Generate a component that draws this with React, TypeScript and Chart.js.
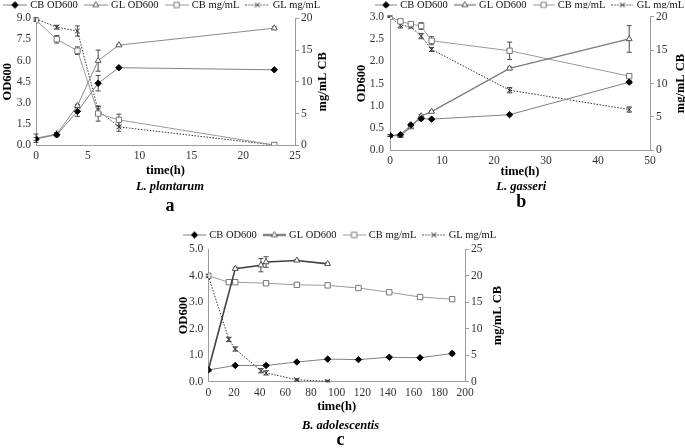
import React, { useEffect, useRef } from "react";
import { Chart, registerables } from "chart.js";

Chart.register(...registerables);

const FONT = '"Liberation Serif", "DejaVu Serif", serif';

const SERIES_LABELS = ["CB OD600", "GL OD600", "CB mg/mL", "GL mg/mL"];
const RIGHT_AXIS_TITLE = "mg/mL CB";

// ---------- Panel a : L. plantarum ----------
const A_TIME = [0, 2, 4, 6, 8, 23];
const A_CB_OD = [0.45, 0.75, 2.4, 4.4, 5.5, 5.35];
const A_CB_OD_ERR = [0.1, 0.15, 0.35, 0.55, 0, 0];
const A_GL_OD = [0.5, 0.8, 2.8, 6.0, 7.1, 8.3];
const A_GL_OD_ERR = [0.3, 0.1, 0.1, 0.75, 0.05, 0.1];
const A_CB_MG = [19.7, 16.7, 14.9, 5.0, 4.0, 0.05];
const A_CB_MG_ERR = [0.2, 0.6, 0.6, 1.2, 0.9, 0];
const A_GL_MG = [19.9, 18.6, 18.0, 5.5, 2.9, 0.05];
const A_GL_MG_ERR = [0.2, 0.3, 0.8, 0.6, 0.7, 0];
const A_X_TICKS = [0, 5, 10, 15, 20, 25];
const A_OD_TICKS = [0, 1.5, 3, 4.5, 6, 7.5, 9];
const A_MG_TICKS = [0, 5, 10, 15, 20];

// ---------- Panel b : L. gasseri ----------
const B_TIME = [0, 2, 4, 6, 8, 23, 46];
const B_CB_OD = [0.33, 0.35, 0.57, 0.71, 0.7, 0.8, 1.53];
const B_CB_OD_ERR = [0.02, 0.02, 0.03, 0.03, 0.02, 0.02, 0.03];
const B_GL_OD = [0.33, 0.33, 0.52, 0.77, 0.87, 1.84, 2.5];
const B_GL_OD_ERR = [0.02, 0.02, 0.03, 0.03, 0.02, 0.03, 0.3];
const B_CB_MG = [20.0, 19.3, 18.9, 18.6, 16.4, 14.9, 11.1];
const B_CB_MG_ERR = [0.1, 0.2, 0.2, 0.5, 0.6, 1.3, 0.1];
const B_GL_MG = [20.0, 18.7, 18.5, 17.1, 15.1, 9.0, 6.1];
const B_GL_MG_ERR = [0.1, 0.4, 0.2, 0.4, 0.3, 0.4, 0.4];
const B_X_TICKS = [0, 10, 20, 30, 40, 50];
const B_OD_TICKS = [0, 0.5, 1, 1.5, 2, 2.5, 3];
const B_MG_TICKS = [0, 5, 10, 15, 20];

// ---------- Panel c : B. adolescentis ----------
const C_CB_OD_TIME = [0, 21, 45, 69, 93, 117, 141, 165, 190];
const C_CB_OD = [0.45, 0.62, 0.62, 0.75, 0.86, 0.84, 0.93, 0.91, 1.07];
const C_CB_OD_ERR = [0, 0.02, 0.02, 0.02, 0.02, 0.02, 0.03, 0.02, 0.06];
const C_GL_OD_TIME = [0, 21, 41, 45, 69, 93];
const C_GL_OD = [0.45, 4.27, 4.4, 4.52, 4.58, 4.45];
const C_GL_OD_ERR = [0, 0.05, 0.25, 0.2, 0.04, 0.03];
const C_CB_MG_TIME = [0, 16, 21, 45, 69, 93, 117, 141, 165, 190];
const C_CB_MG = [20.0, 18.8, 18.8, 18.6, 18.3, 18.2, 17.7, 16.9, 16.0, 15.6];
const C_CB_MG_ERR = [0.2, 0.3, 0.3, 0.3, 0.3, 0.4, 0.3, 0.3, 0.3, 0.3];
const C_GL_MG_TIME = [0, 16, 21, 41, 45, 69, 93];
const C_GL_MG = [20.0, 8.0, 6.2, 2.1, 1.7, 0.4, 0.1];
const C_GL_MG_ERR = [0.3, 0.4, 0.4, 0.4, 0.4, 0.2, 0.2];
const C_X_TICKS = [0, 20, 40, 60, 80, 100, 120, 140, 160, 180, 200];
const C_OD_TICKS = [0, 1, 2, 3, 4, 5];
const C_MG_TICKS = [0, 5, 10, 15, 20, 25];

type Series = { t: number[]; v: number[]; e: number[] };

type Style = {
  color: string;
  width: number;
  dash: number[];
  point: string;
  r: number;
  fill: string;
  pb: string;
};

const baseStyles = (glOdColor: string, glOdWidth: number): Style[] => [
  { color: "#808080", width: 1, dash: [], point: "rectRot", r: 3.2, fill: "#000", pb: "#000" },
  { color: glOdColor, width: glOdWidth, dash: [], point: "triangle", r: 3.4, fill: "#fff", pb: "#555" },
  { color: "#9a9a9a", width: 1, dash: [], point: "rect", r: 3.8, fill: "#fff", pb: "#777" },
  { color: "#333", width: 1, dash: [1.5, 1.5], point: "crossRot", r: 3.4, fill: "#333", pb: "#333" },
];

const PANELS = [
  {
    key: "a",
    species: "L. plantarum",
    series: [
      { t: A_TIME, v: A_CB_OD, e: A_CB_OD_ERR },
      { t: A_TIME, v: A_GL_OD, e: A_GL_OD_ERR },
      { t: A_TIME, v: A_CB_MG, e: A_CB_MG_ERR },
      { t: A_TIME, v: A_GL_MG, e: A_GL_MG_ERR },
    ] as Series[],
    xTicks: A_X_TICKS,
    odTicks: A_OD_TICKS,
    mgTicks: A_MG_TICKS,
    styles: baseStyles("#8a8a8a", 1),
    box: { left: 0, top: 0, w: 340, h: 220 },
    pad: { left: 0, right: 0, top: 0, bottom: 0 },
    yW: 36,
    y2W: 45,
    titleOff: 17.5,
    xH: 32.5,
    legend: { symW: 24, S: 3, G: 6, Y: 5, h: 18.3 },
    sub: { top: 1.9, bottom: 0 },
    ttl: { top: 4, bottom: 6.9 },
    yTickPad: 5,
  },
  {
    key: "b",
    species: "L. gasseri",
    series: [
      { t: B_TIME, v: B_CB_OD, e: B_CB_OD_ERR },
      { t: B_TIME, v: B_GL_OD, e: B_GL_OD_ERR },
      { t: B_TIME, v: B_CB_MG, e: B_CB_MG_ERR },
      { t: B_TIME, v: B_GL_MG, e: B_GL_MG_ERR },
    ] as Series[],
    xTicks: B_X_TICKS,
    odTicks: B_OD_TICKS,
    mgTicks: B_MG_TICKS,
    styles: baseStyles("#7a7a7a", 1.3),
    box: { left: 340, top: 0, w: 345, h: 220 },
    pad: { left: 14.3, right: -3.2, top: 0, bottom: 0 },
    yW: 35.7,
    y2W: 38.2,
    titleOff: 7.5,
    xH: 28.8,
    legend: { symW: 22, S: 35, G: 6, Y: 5, h: 16.7 },
    sub: { top: 0.6, bottom: 0 },
    ttl: { top: 0.2, bottom: 10.7 },
    yTickPad: 6,
  },
  {
    key: "c",
    species: "B. adolescentis",
    series: [
      { t: C_CB_OD_TIME, v: C_CB_OD, e: C_CB_OD_ERR },
      { t: C_GL_OD_TIME, v: C_GL_OD, e: C_GL_OD_ERR },
      { t: C_CB_MG_TIME, v: C_CB_MG, e: C_CB_MG_ERR },
      { t: C_GL_MG_TIME, v: C_GL_MG, e: C_GL_MG_ERR },
    ] as Series[],
    xTicks: C_X_TICKS,
    odTicks: C_OD_TICKS,
    mgTicks: C_MG_TICKS,
    styles: baseStyles("#404040", 1.6),
    box: { left: 140, top: 220, w: 400, h: 228 },
    pad: { left: 35.8, right: 34.8, top: 0, bottom: 0 },
    yW: 32.5,
    y2W: 40.2,
    titleOff: 7.5,
    xH: 32.2,
    legend: { symW: 23, S: 43, G: 6, Y: 15, h: 29.3 },
    sub: { top: 4, bottom: 0 },
    ttl: { top: 0.3, bottom: 0.2 },
    yTickPad: 5,
  },
];

function drawMarker(ctx: CanvasRenderingContext2D, st: Style, x: number, y: number) {
  const r = st.r;
  ctx.save();
  ctx.lineWidth = 1;
  ctx.setLineDash([]);
  ctx.strokeStyle = st.pb;
  ctx.fillStyle = st.fill;
  ctx.beginPath();
  if (st.point === "rectRot") {
    ctx.moveTo(x, y - r);
    ctx.lineTo(x + r, y);
    ctx.lineTo(x, y + r);
    ctx.lineTo(x - r, y);
    ctx.closePath();
    ctx.fill();
    ctx.stroke();
  } else if (st.point === "triangle") {
    ctx.moveTo(x, y - r);
    ctx.lineTo(x + r * 0.866, y + r * 0.5);
    ctx.lineTo(x - r * 0.866, y + r * 0.5);
    ctx.closePath();
    ctx.fill();
    ctx.stroke();
  } else if (st.point === "rect") {
    const s = r * Math.SQRT1_2;
    ctx.rect(x - s, y - s, 2 * s, 2 * s);
    ctx.fill();
    ctx.stroke();
  } else {
    const s = r * Math.SQRT1_2;
    ctx.moveTo(x - s, y - s);
    ctx.lineTo(x + s, y + s);
    ctx.moveTo(x + s, y - s);
    ctx.lineTo(x - s, y + s);
    ctx.stroke();
  }
  ctx.restore();
}

function legendImage(st: Style, w: number, h: number) {
  const c = document.createElement("canvas");
  c.width = w;
  c.height = h;
  const ctx = c.getContext("2d")!;
  ctx.strokeStyle = st.color;
  ctx.lineWidth = st.width;
  ctx.setLineDash(st.dash);
  ctx.beginPath();
  ctx.moveTo(0, h / 2);
  ctx.lineTo(w, h / 2);
  ctx.stroke();
  drawMarker(ctx, st, w / 2, h / 2);
  return c;
}

const errorBars = {
  id: "errorBars",
  beforeDatasetsDraw(chart: any) {
    const ctx = chart.ctx;
    chart.data.datasets.forEach((ds: any, i: number) => {
      const err: number[] = ds.errors;
      if (!err) return;
      const meta = chart.getDatasetMeta(i);
      const ys = chart.scales[ds.yAxisID];
      ctx.save();
      ctx.strokeStyle = "#3a3a3a";
      ctx.lineWidth = 0.9;
      meta.data.forEach((pt: any, j: number) => {
        const e = err[j];
        if (!e) return;
        const v = ds.data[j].y;
        const y1 = ys.getPixelForValue(v + e);
        const y2 = ys.getPixelForValue(Math.max(v - e, 0));
        const x = pt.x;
        ctx.beginPath();
        ctx.moveTo(x, y1);
        ctx.lineTo(x, y2);
        ctx.moveTo(x - 2.5, y1);
        ctx.lineTo(x + 2.5, y1);
        ctx.moveTo(x - 2.5, y2);
        ctx.lineTo(x + 2.5, y2);
        ctx.stroke();
      });
      ctx.restore();
    });
  },
};

const legendFix = {
  id: "legendFix",
  beforeLayout(chart: any, _args: any, opts: any) {
    const lg = chart.legend;
    if (lg && !lg.__fixed) {
      const orig = lg.fit.bind(lg);
      lg.fit = function () {
        orig();
        this.height = opts.h;
      };
      lg.__fixed = true;
    }
  },
  afterLayout(chart: any, _args: any, opts: any) {
    const lg = chart.legend;
    if (lg) {
      lg.left += opts.dx;
      lg.right += opts.dx;
      lg.top += opts.dy;
      lg.bottom += opts.dy;
    }
  },
};

// right-axis title reading bottom-to-top, as in the reference
const rightTitle = {
  id: "rightTitle",
  afterDraw(chart: any, _args: any, opts: any) {
    const s = chart.scales.y2;
    const ca = chart.chartArea;
    const ctx = chart.ctx;
    ctx.save();
    ctx.translate(s.right - opts.off, (ca.top + ca.bottom) / 2);
    ctx.rotate(-Math.PI / 2);
    ctx.font = "bold 12.5px " + FONT;
    ctx.fillStyle = "#000";
    ctx.textAlign = "center";
    ctx.textBaseline = "middle";
    ctx.fillText(opts.text, 0, 0);
    ctx.restore();
  },
};

function buildConfig(p: (typeof PANELS)[number]): any {
  const datasets = p.series.map((s, i) => {
    const st = p.styles[i];
    return {
      label: SERIES_LABELS[i],
      data: s.t.map((t, j) => ({ x: t, y: s.v[j] })),
      errors: s.e,
      yAxisID: i < 2 ? "y" : "y2",
      borderColor: st.color,
      borderWidth: st.width,
      borderDash: st.dash,
      backgroundColor: st.fill,
      pointStyle: st.point,
      pointRadius: st.r,
      pointBorderColor: st.pb,
      pointBackgroundColor: st.fill,
      pointBorderWidth: 1,
      fill: false,
      tension: 0,
    };
  });

  const lgFont = 10.5;
  const lg = p.legend;
  const boxW = lg.symW - 4;
  const g = lg.G + 2;
  const dx = lg.S + 2 - (p.pad.left + g);
  const dy = lg.Y - (p.pad.top + g + lgFont / 2);
  const images = p.styles.map((st) => legendImage(st, lg.symW, 11));

  const tickFont = { family: FONT, size: 11.5 };
  const titleFont = { family: FONT, size: 12.5, weight: "bold" as const };
  const axisColor = "#9c9c9c";
  const fixTicks = (arr: number[]) => (s: any) => {
    s.ticks = arr.map((v) => ({ value: v }));
  };

  return {
    type: "line",
    data: { datasets },
    plugins: [errorBars, legendFix, rightTitle],
    options: {
      animation: false,
      responsive: false,
      maintainAspectRatio: false,
      events: [],
      layout: { padding: p.pad },
      scales: {
        x: {
          type: "linear",
          min: p.xTicks[0],
          max: p.xTicks[p.xTicks.length - 1],
          afterBuildTicks: fixTicks(p.xTicks),
          afterFit: (s: any) => {
            s.height = p.xH;
          },
          grid: { drawOnChartArea: false, drawTicks: false, color: axisColor },
          border: { display: true, color: axisColor, width: 1 },
          ticks: { font: tickFont, color: "#333", padding: 4, maxRotation: 0 },
          title: { display: true, text: "time(h)", font: titleFont, color: "#000", padding: { top: 0, bottom: 0 } },
        },
        y: {
          type: "linear",
          position: "left",
          min: p.odTicks[0],
          max: p.odTicks[p.odTicks.length - 1],
          afterBuildTicks: fixTicks(p.odTicks),
          afterFit: (s: any) => {
            s.width = p.yW;
          },
          grid: { drawOnChartArea: false, drawTicks: false, color: axisColor },
          border: { display: true, color: axisColor, width: 1 },
          ticks: {
            font: tickFont,
            color: "#333",
            padding: p.yTickPad,
            callback: (v: any) => Number(v).toFixed(1),
          },
          title: { display: true, text: "OD600", font: titleFont, color: "#000", padding: 0 },
        },
        y2: {
          type: "linear",
          position: "right",
          min: p.mgTicks[0],
          max: p.mgTicks[p.mgTicks.length - 1],
          afterBuildTicks: fixTicks(p.mgTicks),
          afterFit: (s: any) => {
            s.width = p.y2W;
          },
          grid: { drawOnChartArea: false, drawTicks: true, tickLength: 4, color: axisColor },
          border: { display: true, color: axisColor, width: 1 },
          ticks: { font: tickFont, color: "#333", padding: 2 },
          title: { display: false },
        },
      },
      plugins: {
        tooltip: { enabled: false },
        legend: {
          display: true,
          position: "top",
          align: "start",
          labels: {
            font: { family: FONT, size: lgFont },
            color: "#111",
            usePointStyle: true,
            pointStyleWidth: boxW,
            boxHeight: lgFont,
            padding: g,
            generateLabels: (chart: any) => {
              const items = Chart.defaults.plugins.legend.labels.generateLabels(chart);
              return items.map((it: any) => ({
                ...it,
                pointStyle: images[it.datasetIndex],
                lineWidth: 0,
              }));
            },
          },
        },
        legendFix: { h: lg.h, dx, dy },
        rightTitle: { off: p.titleOff, text: RIGHT_AXIS_TITLE },
        subtitle: {
          display: true,
          position: "bottom",
          text: p.species,
          color: "#000",
          font: { family: FONT, size: 12.5, weight: "bold", style: "italic", lineHeight: 1.2 },
          padding: p.sub,
        },
        title: {
          display: true,
          position: "bottom",
          text: p.key,
          color: "#000",
          font: { family: FONT, size: 18, weight: "bold", lineHeight: 0.8 },
          padding: p.ttl,
        },
      },
    },
  };
}

function Panel({ p }: { p: (typeof PANELS)[number] }) {
  const ref = useRef<HTMLCanvasElement | null>(null);
  useEffect(() => {
    if (!ref.current) return;
    const chart = new Chart(ref.current, buildConfig(p));
    return () => chart.destroy();
  }, [p]);
  return (
    <canvas
      ref={ref}
      width={p.box.w}
      height={p.box.h}
      style={{
        position: "absolute",
        left: p.box.left,
        top: p.box.top,
        width: p.box.w,
        height: p.box.h,
      }}
    />
  );
}

export default function App() {
  return (
    <div
      style={{
        position: "fixed",
        left: 0,
        top: 0,
        width: 685,
        height: 448,
        background: "#fff",
        overflow: "hidden",
      }}
    >
      {PANELS.map((p) => (
        <Panel key={p.key} p={p} />
      ))}
    </div>
  );
}
